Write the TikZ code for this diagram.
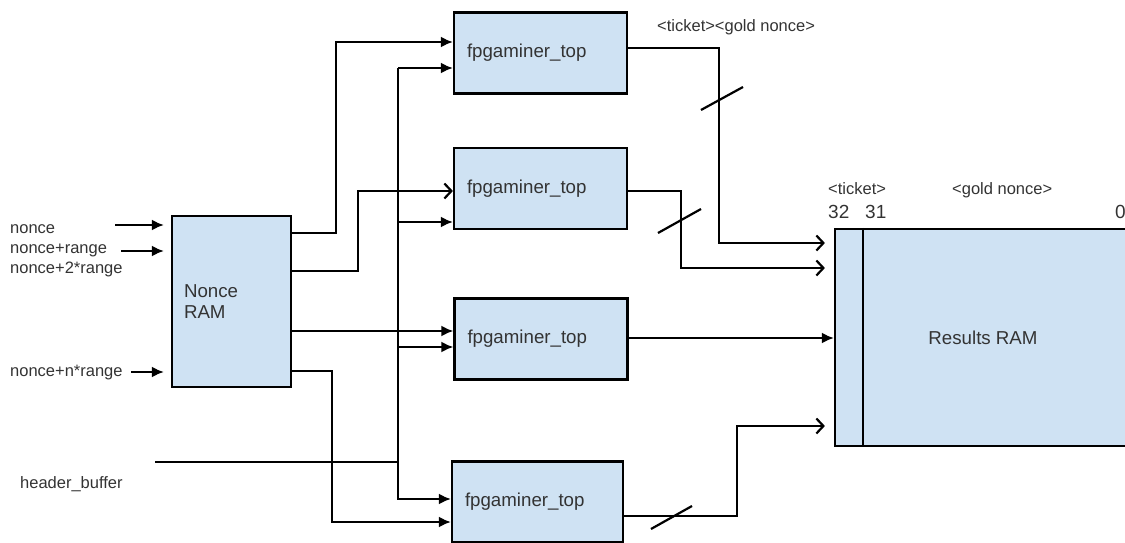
\documentclass[tikz,border=0pt]{standalone}
\usepackage{fontspec}
\setmainfont{Liberation Sans}
\usetikzlibrary{arrows.meta}

\definecolor{boxblue}{HTML}{CFE2F3}
\definecolor{txtgray}{HTML}{333333}

\tikzset{
  block/.style={draw, line width=2.2pt, fill=boxblue, text=txtgray, align=left,
    inner xsep=13pt, font=\fontsize{18.7}{21}\selectfont},
  minerbox/.style={block, text width=147pt, minimum height=81pt},
  wire/.style={line width=2.2pt},
  arr/.style={wire, -{Latex[length=12pt,width=11pt]}},
  oarr/.style={wire, -{Straight Barb[length=7pt,width=15pt]}, shorten >=9pt},
  lbl/.style={anchor=base west, text=txtgray, inner sep=0pt, font=\fontsize{16.5}{20}\selectfont},
  numlbl/.style={lbl, font=\fontsize{19}{22}\selectfont},
}

\begin{document}
\begin{tikzpicture}[x=1pt, y=-1pt]
    \useasboundingbox (0,0) rectangle (1125,543);
    \clip (0,0) rectangle (1125,543);

    % blocks
    \node[block, text width=95pt, inner xsep=12pt, minimum height=171pt] (nram) at (231.5,301.5) {Nonce\\RAM};
    \node[minerbox] (m1) at (540.5,53) {\raisebox{-3pt}{fpgaminer\_top}};
    \node[minerbox] (m2) at (540.5,188.5) {\raisebox{-3pt}{fpgaminer\_top}};
    \node[minerbox] (m3) at (541,339) {\raisebox{-3pt}{fpgaminer\_top}};
    \node[minerbox, text width=145pt] (m4) at (537.5,502) {\raisebox{-2pt}{fpgaminer\_top}};
    \node[block, align=center, minimum width=296pt, minimum height=217pt] (rram) at (983,337.5) {Results RAM};
    \draw[wire] ([xshift=29pt]rram.north west) -- ([xshift=29pt]rram.south west);

    % inputs
    \node[lbl] (nin1) at (10,233) {nonce};
    \node[lbl] (nin2) at (10,253) {nonce+range};
    \node[lbl] (nin3) at (10,273) {nonce+2*range};
    \node[lbl] (ninn) at (10,376) {nonce+n*range};
    \node[lbl] (hbuf) at (20,488) {header\_buffer};
    \coordinate (a1) at (115,225);
    \coordinate (a2) at (121,251);
    \coordinate (an) at (131,372);
    \coordinate (hb) at (155,462);
    \draw[arr, shorten >=7pt] (a1) -- (nram.west |- a1);
    \draw[arr, shorten >=7pt] (a2) -- (nram.west |- a2);
    \draw[arr, shorten >=7pt] (an) -- (nram.west |- an);

    % nonce RAM to miners
    \draw[arr] (nram.east |- 0,233) -| (336,42) -- (m1.west |- 0,42);
    \draw[oarr, shorten >=0pt] (nram.east |- 0,271) -| (358,191) -- (m2.west |- 0,191);
    \draw[arr] (nram.east |- 0,331) -- (m3.west |- 0,331);
    \draw[arr] (nram.east |- 0,371) -| (332,522) -- (m4.west |- 0,522);

    % header bus
    \coordinate (bus) at (398,68);
    \draw[wire] (hb) -- (bus |- hb);
    \draw[arr] (bus) -- (m1.west |- bus);
    \draw[arr] (bus |- 0,222) -- (m2.west |- 0,222);
    \draw[arr] (bus |- 0,347) -- (m3.west |- 0,347);
    \draw[arr] (bus) |- (m4.west |- 0,499);

    % miners to results
    \draw[oarr] (m1.east |- 0,48) -| (719,243) -- (rram.west |- 0,243);
    \draw[oarr] (m2.east |- 0,191) -| (681,268) -- (rram.west |- 0,268);
    \draw[arr] (m3.east |- 0,338) -- (rram.west |- 0,338);
    \draw[oarr] (m4.east |- 0,516) -| (737,426) -- (rram.west |- 0,426);
    \draw[wire] (701,110) -- (743,87);
    \draw[wire] (658,233) -- (701,209);
    \draw[wire] (651,529) -- (692,506);

    % field labels
    \node[lbl] (tg) at (657,32) {<ticket><gold nonce>};
    \node[lbl] (tk) at (828,194) {<ticket>};
    \node[lbl] (gn) at (952,194) {<gold nonce>};
    \node[numlbl] (b32) at (828,218) {32};
    \node[numlbl] (b31) at (865,218) {31};
    \node[numlbl] (b0) at (1115,218) {0};
\end{tikzpicture}
\end{document}
